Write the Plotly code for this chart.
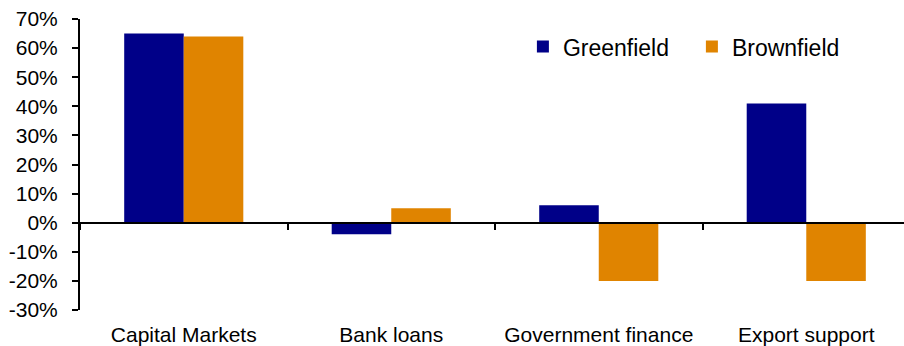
import plotly.graph_objects as go

categories = ["Capital Markets", "Bank loans", "Government finance", "Export support"]
greenfield = [65, -4, 6, 41]
brownfield = [64, 5, -20, -20]
y_ticks = [-30, -20, -10, 0, 10, 20, 30, 40, 50, 60, 70]
y_tick_text = [f"{v}%" for v in y_ticks]

GREEN_COL = "#000088"
BROWN_COL = "#E08400"
FONT = "Liberation Sans, Arial, sans-serif"

fig = go.Figure()
fig.add_bar(x=categories, y=greenfield, name="Greenfield", marker_color=GREEN_COL,
            marker_line_width=0)
fig.add_bar(x=categories, y=brownfield, name="Brownfield", marker_color=BROWN_COL,
            marker_line_width=0)
# invisible helper trace so the bottom label axis is rendered
fig.add_scatter(x=categories, y=greenfield, xaxis="x2", mode="markers",
                marker=dict(opacity=0), showlegend=False, hoverinfo="skip")

fig.update_layout(
    width=904, height=346,
    margin=dict(l=80, r=0, t=19, b=36, autoexpand=False),
    paper_bgcolor="white", plot_bgcolor="white",
    font=dict(family=FONT, size=20, color="black"),
    barmode="group", bargap=0.426, bargroupgap=0,
    showlegend=True,
    legend=dict(orientation="h", x=0.5375, y=0.905, xanchor="left", yanchor="middle",
                font=dict(size=23), entrywidth=124, entrywidthmode="pixels",
                bgcolor="rgba(0,0,0,0)"),
    xaxis=dict(type="category", categoryorder="array", categoryarray=categories,
               range=[-0.5, 3.471], anchor="free", position=0.3,
               showline=True, linecolor="black", linewidth=2,
               ticks="outside", tickson="boundaries", ticklen=6, tickwidth=2,
               tickcolor="black", showticklabels=False, showgrid=False, zeroline=False),
    xaxis2=dict(type="category", categoryorder="array", categoryarray=categories,
                matches="x", overlaying="x", anchor="y", side="bottom",
                showline=False, showgrid=False, zeroline=False,
                ticks="outside", ticklen=6, tickcolor="rgba(0,0,0,0)",
                showticklabels=True, tickfont=dict(size=21)),
    yaxis=dict(range=[-30, 70], tickvals=y_ticks, ticktext=y_tick_text,
               showline=True, linecolor="black", linewidth=2,
               ticks="outside", ticklen=6, tickwidth=2, tickcolor="black",
               showgrid=False, zeroline=False, ticklabelstandoff=10,
               tickfont=dict(size=21)),
)

fig.write_html("out.html", config={"displayModeBar": False},
               post_script="document.body.style.margin='0';document.body.style.overflow='hidden';")
